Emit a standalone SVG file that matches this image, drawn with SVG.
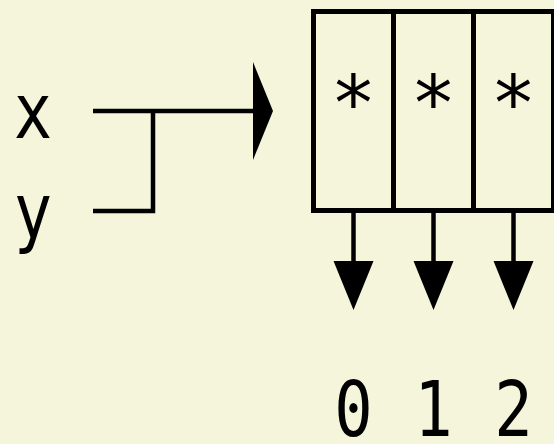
<svg xmlns="http://www.w3.org/2000/svg" width="554" height="444" viewBox="0 0 554 444">
  <defs>
    <style>
      .lbl { font-family: "DejaVu Sans Mono", "Liberation Mono", monospace; font-size: 76px; fill: #000; text-anchor: middle; }
      .wire { stroke: #000; stroke-width: 4.5; fill: none; }
      .cell { stroke: #000; stroke-width: 5; fill: none; }
      .head { fill: #000; }
    </style>
  </defs>
  <rect width="554" height="444" fill="#f5f5dc"/>

  <!-- inputs (glyphs narrowed horizontally) -->
  <g id="input-x"><text class="lbl" transform="translate(33 0) scale(0.84 1)" x="0" y="138">x</text></g>
  <g id="input-y"><text class="lbl" transform="translate(33 0) scale(0.84 1)" x="0" y="238">y</text></g>

  <!-- three-cell vector -->
  <g id="vec-cell-0">
    <rect class="cell" x="313.5" y="11.5" width="80" height="199"/>
    <text class="lbl" x="353.5" y="130">*</text>
  </g>
  <g id="vec-cell-1">
    <rect class="cell" x="393.5" y="11.5" width="80" height="199"/>
    <text class="lbl" x="433.5" y="130">*</text>
  </g>
  <g id="vec-cell-2">
    <rect class="cell" x="473.5" y="11.5" width="80" height="199"/>
    <text class="lbl" x="513.5" y="130">*</text>
  </g>

  <!-- output indices -->
  <g id="out-0"><text class="lbl" transform="translate(353.5 0) scale(0.84 1)" x="0" y="436">0</text></g>
  <g id="out-1"><text class="lbl" transform="translate(433.5 0) scale(0.84 1)" x="0" y="436">1</text></g>
  <g id="out-2"><text class="lbl" transform="translate(513.5 0) scale(0.84 1)" x="0" y="436">2</text></g>

  <g id="connectors">
    <!-- x and y merge into the vector -->
    <path class="wire" d="M93 111 H254"/>
    <path class="wire" d="M93 211 H153 V111"/>
    <polygon class="head" points="253,62 273,111 253,160"/>
    <!-- element outputs -->
    <path class="wire" d="M353.5 213 V262"/>
    <path class="wire" d="M433.5 213 V262"/>
    <path class="wire" d="M513.5 213 V262"/>
    <polygon class="head" points="333.5,261 373.5,261 353.5,310"/>
    <polygon class="head" points="413.5,261 453.5,261 433.5,310"/>
    <polygon class="head" points="493.5,261 533.5,261 513.5,310"/>
  </g>
</svg>
